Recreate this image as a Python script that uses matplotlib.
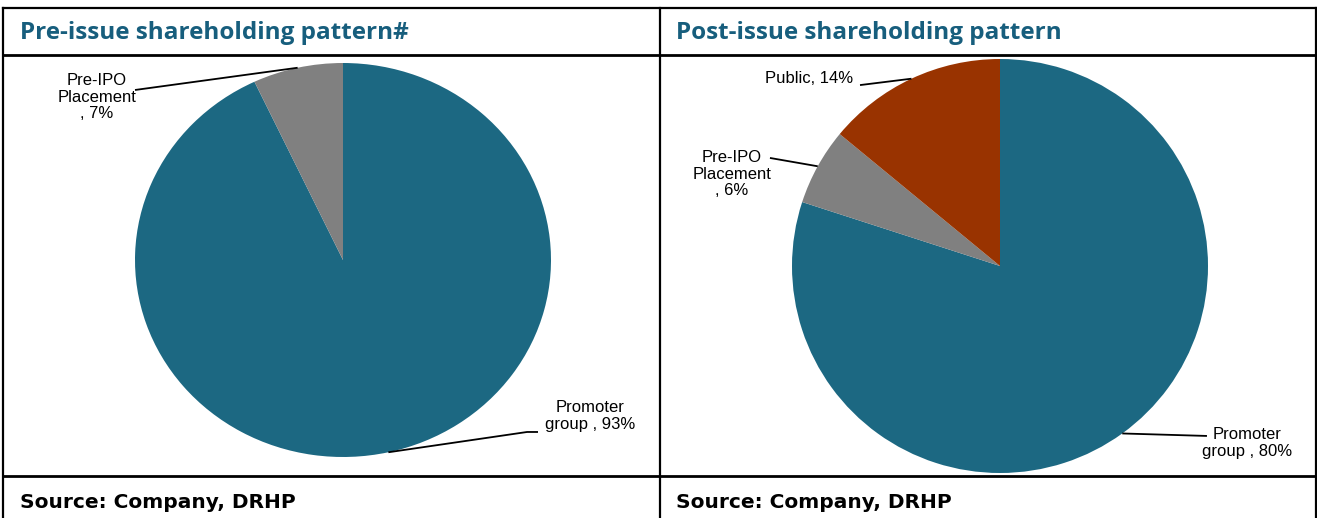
import numpy as np
import matplotlib
matplotlib.use("Agg")
import matplotlib.pyplot as plt
from matplotlib.lines import Line2D

# data
pre_labels = ["Promoter\ngroup , 93%", "Pre-IPO\nPlacement\n, 7%"]
pre_values = [93, 7]
post_labels = ["Promoter\ngroup , 80%", "Pre-IPO\nPlacement\n, 6%", "Public, 14%"]
post_values = [80, 6, 14]
titles = ["Pre-issue shareholding pattern#", "Post-issue shareholding pattern"]
source = "Source: Company, DRHP"

TEAL = "#1C6882"
GRAY = "#808080"
RUST = "#993300"
TITLE_BLUE = "#175E7D"

W, H = 1317, 518
fig = plt.figure(figsize=(W / 100, H / 100), dpi=100)


def fx(px):
    return px / W


def fy(py):
    return 1 - py / H


def hline(y, x0, x1, lw=1.6):
    fig.add_artist(Line2D([fx(x0), fx(x1)], [fy(y), fy(y)], color="black", lw=lw))


def vline(x, y0, y1, lw=1.6):
    fig.add_artist(Line2D([fx(x), fx(x)], [fy(y0), fy(y1)], color="black", lw=lw))


# panel frames
hline(8, 3, 1317)
hline(55, 3, 1317, lw=2)
hline(476, 3, 1317, lw=2)
vline(3, 8, 518)
vline(660, 8, 518)
vline(1316, 8, 518)

for x0, t in zip([20, 676], titles):
    fig.text(fx(x0), fy(33), t, fontsize=17.5, fontweight="bold", family="Open Sans",
             color=TITLE_BLUE, va="center", ha="left")
    fig.text(fx(x0), fy(502), source, fontsize=14.5, fontweight="bold",
             family="DejaVu Sans", color="black", va="center", ha="left")


def draw_pie(box, values, colors, labels, layout):
    # box = (left, top, right, bottom) in pixels
    l, t, r, b = box
    ax = fig.add_axes([fx(l), fy(b), fx(r) - fx(l), fy(t) - fy(b)])
    ax.pie(values, colors=colors, startangle=90, counterclock=False,
           wedgeprops=dict(linewidth=0))
    ax.set_aspect("auto")
    ax.set_xlim(-1, 1)
    ax.set_ylim(-1, 1)
    ax.axis("off")
    total = float(sum(values))
    cum = np.cumsum(values)
    for v, c, lab, (pts, txy, ha) in zip(values, cum, labels, layout):
        ang = np.deg2rad(360 * (c - v / 2) / total)
        xs = [np.sin(ang)] + [p[0] for p in pts]
        ys = [np.cos(ang)] + [p[1] for p in pts]
        ax.plot(xs, ys, color="black", lw=1.3, clip_on=False,
                solid_capstyle="butt")
        ax.text(txy[0], txy[1], lab, ha=ha, va="center", fontsize=12,
                family="Liberation Sans", linespacing=1.15, multialignment="center")
    return ax


draw_pie((135, 63, 551, 457), pre_values, [TEAL, GRAY], pre_labels,
         [([(0.885, -0.873), (0.9375, -0.873)], (1.19, -0.79), "center"),
          ([(-1.0, 0.863)], (-1.183, 0.827), "center")])

draw_pie((792, 59, 1208, 473), post_values, [TEAL, GRAY, RUST], post_labels,
         [([(0.995, -0.821)], (1.188, -0.855), "center"),
          ([(-1.106, 0.522)], (-1.288, 0.444), "center"),
          ([(-0.673, 0.874)], (-0.707, 0.908), "right")])

fig.savefig("out.png", dpi=100)
